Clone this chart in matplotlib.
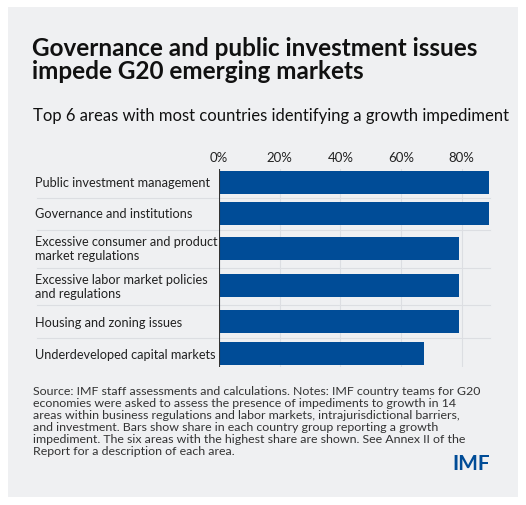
import matplotlib
matplotlib.use("Agg")
import matplotlib.pyplot as plt
from matplotlib.patches import Rectangle

plt.rcParams['font.family'] = ['Lato', 'DejaVu Sans']

categories = ["Public investment management", "Governance and institutions",
              "Excessive consumer and product\nmarket regulations",
              "Excessive labor market policies\nand regulations",
              "Housing and zoning issues", "Underdeveloped capital markets"]
values = [89, 89, 79, 79, 79, 67.5]
ticks = [0, 20, 40, 60, 80]
tick_labels = ["0%", "20%", "40%", "60%", "80%"]

W, H = 526, 506
fig = plt.figure(figsize=(W/100, H/100), dpi=100)
fig.patch.set_facecolor("white")
bg = "#eff0f2"
fig.patches.append(Rectangle((8/W, 8/H), 510/W, 490/H, transform=fig.transFigure,
                             facecolor=bg, edgecolor="none", zorder=-10))

def fy(y):
    return 1 - y/H

fig.text(32/W, fy(60), "Governance and public investment issues\nimpede G20 emerging markets",
         fontsize=17.5, fontweight="bold", va="center", ha="left", linespacing=1.05, color="#111")
fig.text(33/W, fy(116), "Top 6 areas with most countries identifying a growth impediment",
         fontsize=12, va="center", ha="left", color="#111")

ax = fig.add_axes([219/W, fy(368), (490-219)/W, (368-170)/H])
ax.set_facecolor(bg)
centers = [183, 214, 249, 287, 323, 355]
seps = [199, 231, 269, 306, 339]
ax.set_ylim(368, 170)
ax.set_xlim(0, 89.3)
for x in ticks[1:]:
    ax.axvline(x, color="#dcdee2", lw=0.8, zorder=0)
ax.barh(centers, values, height=23, color="#004c97", zorder=2)
ax.axvline(0, color="#333", lw=0.8, zorder=3)
for s in seps:
    ax.plot([-60, 89.3], [s, s], color="#dcdee2", lw=0.8, clip_on=False, zorder=1)
ax.set_xticks(ticks)
ax.set_xticklabels(tick_labels, fontsize=9.5, color="#222")
ax.xaxis.tick_top()
ax.tick_params(axis="x", length=0, pad=4)
ax.set_yticks([])
for c, lab in zip(centers, categories):
    ax.text(-60.5, c, lab, fontsize=9.2, ha="left", va="center", color="#222", linespacing=1.2)
for sp in ax.spines.values():
    sp.set_visible(False)

note = ("Source: IMF staff assessments and calculations. Notes: IMF country teams for G20\n"
        "economies were asked to assess the presence of impediments to growth in 14\n"
        "areas within business regulations and labor markets, intrajurisdictional barriers,\n"
        "and investment. Bars show share in each country group reporting a growth\n"
        "impediment. The six areas with the highest share are shown. See Annex II of the\n"
        "Report for a description of each area.")
fig.text(33/W, fy(386), note, fontsize=8.9, va="top", ha="left", color="#333", linespacing=1.12)
fig.text(490/W, fy(464), "IMF", fontsize=15, fontweight="bold", ha="right", va="center", color="#004c97")

fig.savefig("out.png", dpi=100, facecolor="white")
